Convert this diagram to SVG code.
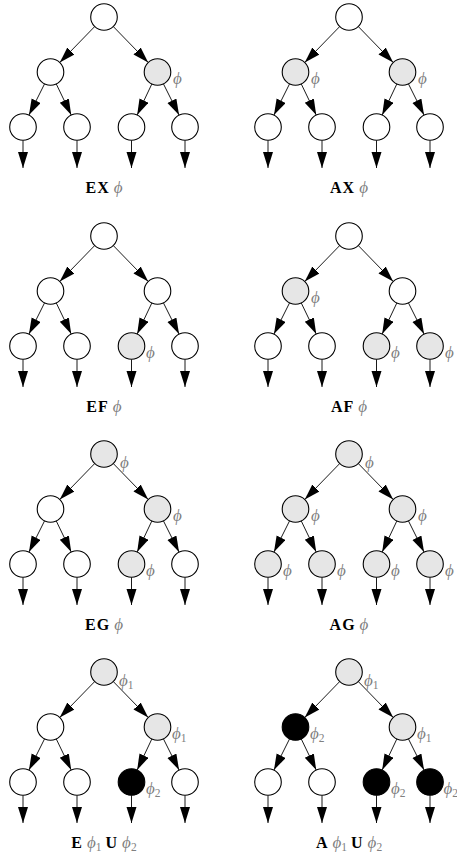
<svg xmlns="http://www.w3.org/2000/svg" xmlns:xlink="http://www.w3.org/1999/xlink" width="457" height="854" viewBox="0 0 457 854">
<style>
circle{stroke:#000;stroke-width:1.1}
.w{fill:#fff}.g{fill:#e6e6e6}.k{fill:#000}
.e{stroke:#000;stroke-width:0.9;fill:none;marker-end:url(#ah)}
.p{font-family:"Liberation Serif","DejaVu Serif",serif;font-style:italic;font-weight:normal;font-size:17px;fill:#808080;letter-spacing:0}
.s{font-style:normal;font-size:11.5px}
.lbl{font-family:"Liberation Serif","DejaVu Serif",serif;font-size:16px;text-anchor:middle}
.b{font-weight:bold;fill:#000;letter-spacing:1px}
</style>
<defs>
<marker id="ah" markerUnits="userSpaceOnUse" markerWidth="16" markerHeight="11" refX="16" refY="5" orient="auto">
<path d="M0,0 L16,5 L0,10 z" fill="#000"/>
</marker>
<g id="edges">
<line class="e" x1="94.73" y1="9.53" x2="59.77" y2="45.47"/>
<line class="e" x1="113.27" y1="9.53" x2="148.23" y2="45.47"/>
<line class="e" x1="44.55" y1="66.9" x2="28.95" y2="98.1"/>
<line class="e" x1="56.27" y1="66.98" x2="71.23" y2="98.02"/>
<line class="e" x1="151.82" y1="67.02" x2="137.18" y2="97.98"/>
<line class="e" x1="163.45" y1="66.9" x2="179.05" y2="98.1"/>
<line class="e" x1="23" y1="123.3" x2="23" y2="151"/>
<line class="e" x1="77" y1="123.3" x2="77" y2="151"/>
<line class="e" x1="131.5" y1="123.3" x2="131.5" y2="151"/>
<line class="e" x1="185" y1="123.3" x2="185" y2="151"/>
</g>
</defs>
<rect width="457" height="854" fill="#fff"/>

<!-- EX -->
<g id="EX" transform="translate(0,17)">
<g id="EX-connectors"><use xlink:href="#edges"/></g>
<g id="EX-root"><circle class="w" cx="104" cy="0" r="13.3"/></g>
<g id="EX-L"><circle class="w" cx="50.5" cy="55" r="13.3"/></g>
<g id="EX-R"><circle class="g" cx="157.5" cy="55" r="13.3"/><text class="p" x="173" y="67">ϕ</text></g>
<g id="EX-LL"><circle class="w" cx="23" cy="110" r="13.3"/></g>
<g id="EX-LR"><circle class="w" cx="77" cy="110" r="13.3"/></g>
<g id="EX-RL"><circle class="w" cx="131.5" cy="110" r="13.3"/></g>
<g id="EX-RR"><circle class="w" cx="185" cy="110" r="13.3"/></g>
<text class="lbl" x="104" y="176"><tspan class="b">EX</tspan> <tspan class="p">ϕ</tspan></text>
</g>

<!-- AX -->
<g id="AX" transform="translate(245,17)">
<g id="AX-connectors"><use xlink:href="#edges"/></g>
<g id="AX-root"><circle class="w" cx="104" cy="0" r="13.3"/></g>
<g id="AX-L"><circle class="g" cx="50.5" cy="55" r="13.3"/><text class="p" x="66" y="67">ϕ</text></g>
<g id="AX-R"><circle class="g" cx="157.5" cy="55" r="13.3"/><text class="p" x="173" y="67">ϕ</text></g>
<g id="AX-LL"><circle class="w" cx="23" cy="110" r="13.3"/></g>
<g id="AX-LR"><circle class="w" cx="77" cy="110" r="13.3"/></g>
<g id="AX-RL"><circle class="w" cx="131.5" cy="110" r="13.3"/></g>
<g id="AX-RR"><circle class="w" cx="185" cy="110" r="13.3"/></g>
<text class="lbl" x="104" y="176"><tspan class="b">AX</tspan> <tspan class="p">ϕ</tspan></text>
</g>

<!-- EF -->
<g id="EF" transform="translate(0,236)">
<g id="EF-connectors"><use xlink:href="#edges"/></g>
<g id="EF-root"><circle class="w" cx="104" cy="0" r="13.3"/></g>
<g id="EF-L"><circle class="w" cx="50.5" cy="55" r="13.3"/></g>
<g id="EF-R"><circle class="w" cx="157.5" cy="55" r="13.3"/></g>
<g id="EF-LL"><circle class="w" cx="23" cy="110" r="13.3"/></g>
<g id="EF-LR"><circle class="w" cx="77" cy="110" r="13.3"/></g>
<g id="EF-RL"><circle class="g" cx="131.5" cy="110" r="13.3"/><text class="p" x="146" y="122">ϕ</text></g>
<g id="EF-RR"><circle class="w" cx="185" cy="110" r="13.3"/></g>
<text class="lbl" x="104" y="176"><tspan class="b">EF</tspan> <tspan class="p">ϕ</tspan></text>
</g>

<!-- AF -->
<g id="AF" transform="translate(245,236)">
<g id="AF-connectors"><use xlink:href="#edges"/></g>
<g id="AF-root"><circle class="w" cx="104" cy="0" r="13.3"/></g>
<g id="AF-L"><circle class="g" cx="50.5" cy="55" r="13.3"/><text class="p" x="66" y="67">ϕ</text></g>
<g id="AF-R"><circle class="w" cx="157.5" cy="55" r="13.3"/></g>
<g id="AF-LL"><circle class="w" cx="23" cy="110" r="13.3"/></g>
<g id="AF-LR"><circle class="w" cx="77" cy="110" r="13.3"/></g>
<g id="AF-RL"><circle class="g" cx="131.5" cy="110" r="13.3"/><text class="p" x="146" y="122">ϕ</text></g>
<g id="AF-RR"><circle class="g" cx="185" cy="110" r="13.3"/><text class="p" x="200" y="122">ϕ</text></g>
<text class="lbl" x="104" y="176"><tspan class="b">AF</tspan> <tspan class="p">ϕ</tspan></text>
</g>

<!-- EG -->
<g id="EG" transform="translate(0,454)">
<g id="EG-connectors"><use xlink:href="#edges"/></g>
<g id="EG-root"><circle class="g" cx="104" cy="0" r="13.3"/><text class="p" x="120" y="14">ϕ</text></g>
<g id="EG-L"><circle class="w" cx="50.5" cy="55" r="13.3"/></g>
<g id="EG-R"><circle class="g" cx="157.5" cy="55" r="13.3"/><text class="p" x="173" y="67">ϕ</text></g>
<g id="EG-LL"><circle class="w" cx="23" cy="110" r="13.3"/></g>
<g id="EG-LR"><circle class="w" cx="77" cy="110" r="13.3"/></g>
<g id="EG-RL"><circle class="g" cx="131.5" cy="110" r="13.3"/><text class="p" x="146" y="122">ϕ</text></g>
<g id="EG-RR"><circle class="w" cx="185" cy="110" r="13.3"/></g>
<text class="lbl" x="104" y="176"><tspan class="b">EG</tspan> <tspan class="p">ϕ</tspan></text>
</g>

<!-- AG -->
<g id="AG" transform="translate(245,454)">
<g id="AG-connectors"><use xlink:href="#edges"/></g>
<g id="AG-root"><circle class="g" cx="104" cy="0" r="13.3"/><text class="p" x="120" y="14">ϕ</text></g>
<g id="AG-L"><circle class="g" cx="50.5" cy="55" r="13.3"/><text class="p" x="66" y="67">ϕ</text></g>
<g id="AG-R"><circle class="g" cx="157.5" cy="55" r="13.3"/><text class="p" x="173" y="67">ϕ</text></g>
<g id="AG-LL"><circle class="g" cx="23" cy="110" r="13.3"/><text class="p" x="38" y="122">ϕ</text></g>
<g id="AG-LR"><circle class="g" cx="77" cy="110" r="13.3"/><text class="p" x="92" y="122">ϕ</text></g>
<g id="AG-RL"><circle class="g" cx="131.5" cy="110" r="13.3"/><text class="p" x="146" y="122">ϕ</text></g>
<g id="AG-RR"><circle class="g" cx="185" cy="110" r="13.3"/><text class="p" x="200" y="122">ϕ</text></g>
<text class="lbl" x="104" y="176"><tspan class="b">AG</tspan> <tspan class="p">ϕ</tspan></text>
</g>

<!-- EU -->
<g id="EU" transform="translate(0,672)">
<g id="EU-connectors"><use xlink:href="#edges"/></g>
<g id="EU-root"><circle class="g" cx="104" cy="0" r="13.3"/><text class="p" x="119" y="14">ϕ<tspan class="s" dy="3">1</tspan></text></g>
<g id="EU-L"><circle class="w" cx="50.5" cy="55" r="13.3"/></g>
<g id="EU-R"><circle class="g" cx="157.5" cy="55" r="13.3"/><text class="p" x="172" y="67">ϕ<tspan class="s" dy="3">1</tspan></text></g>
<g id="EU-LL"><circle class="w" cx="23" cy="110" r="13.3"/></g>
<g id="EU-LR"><circle class="w" cx="77" cy="110" r="13.3"/></g>
<g id="EU-RL"><circle class="k" cx="131.5" cy="110" r="13.3"/><text class="p" x="146" y="122">ϕ<tspan class="s" dy="3">2</tspan></text></g>
<g id="EU-RR"><circle class="w" cx="185" cy="110" r="13.3"/></g>
<text class="lbl" x="104" y="176"><tspan class="b">E</tspan> <tspan class="p">ϕ<tspan class="s" dy="3">1</tspan></tspan> <tspan class="b" dy="-3">U</tspan> <tspan class="p">ϕ<tspan class="s" dy="3">2</tspan></tspan></text>
</g>

<!-- AU -->
<g id="AU" transform="translate(245,672)">
<g id="AU-connectors"><use xlink:href="#edges"/></g>
<g id="AU-root"><circle class="g" cx="104" cy="0" r="13.3"/><text class="p" x="119" y="14">ϕ<tspan class="s" dy="3">1</tspan></text></g>
<g id="AU-L"><circle class="k" cx="50.5" cy="55" r="13.3"/><text class="p" x="65" y="67">ϕ<tspan class="s" dy="3">2</tspan></text></g>
<g id="AU-R"><circle class="g" cx="157.5" cy="55" r="13.3"/><text class="p" x="172" y="67">ϕ<tspan class="s" dy="3">1</tspan></text></g>
<g id="AU-LL"><circle class="w" cx="23" cy="110" r="13.3"/></g>
<g id="AU-LR"><circle class="w" cx="77" cy="110" r="13.3"/></g>
<g id="AU-RL"><circle class="k" cx="131.5" cy="110" r="13.3"/><text class="p" x="146" y="122">ϕ<tspan class="s" dy="3">2</tspan></text></g>
<g id="AU-RR"><circle class="k" cx="185" cy="110" r="13.3"/><text class="p" x="198.5" y="122">ϕ<tspan class="s" dy="3">2</tspan></text></g>
<text class="lbl" x="104" y="176"><tspan class="b">A</tspan> <tspan class="p">ϕ<tspan class="s" dy="3">1</tspan></tspan> <tspan class="b" dy="-3">U</tspan> <tspan class="p">ϕ<tspan class="s" dy="3">2</tspan></tspan></text>
</g>
</svg>
